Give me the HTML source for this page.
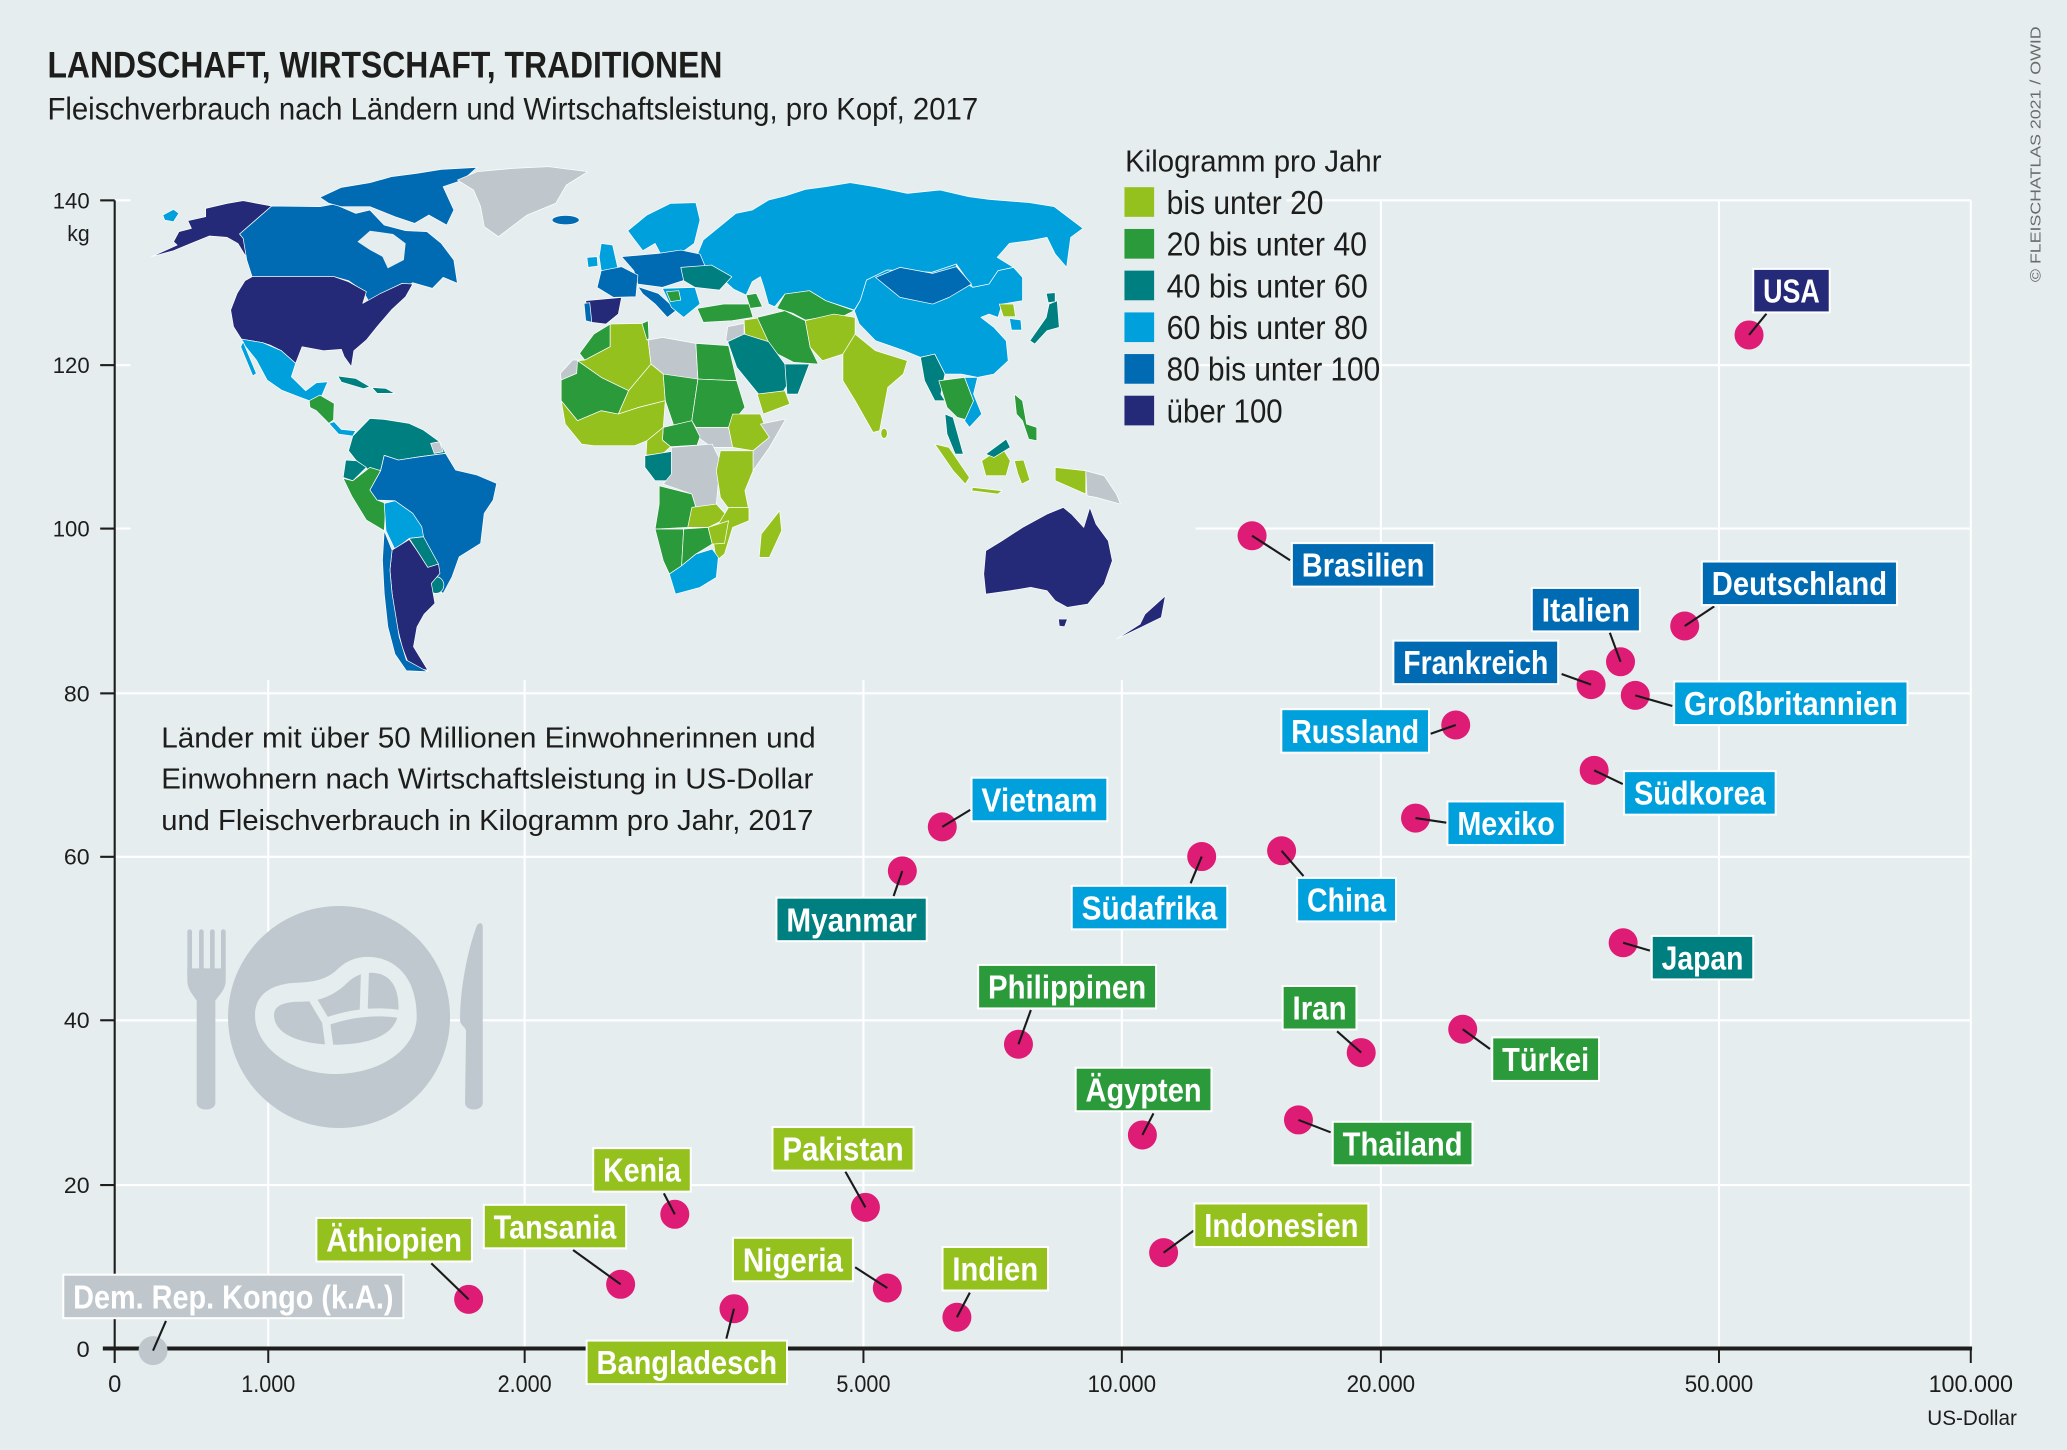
<!DOCTYPE html>
<html>
<head>
<meta charset="utf-8">
<style>
html,body{margin:0;padding:0;background:#E5EDEF;}
svg{display:block;}
.m polygon,.m ellipse{stroke:#fff;stroke-width:0.7;vector-effect:non-scaling-stroke;stroke-linejoin:round;}
.lb text{font-family:"Liberation Sans Narrow","Liberation Sans",sans-serif;font-weight:bold;font-size:25px;fill:#fff;}
.lb rect{stroke:#fff;stroke-width:1.5;}
.ld line{stroke:#1a1a1a;stroke-width:1.6;}
.t{font-family:"Liberation Sans Narrow","Liberation Sans",sans-serif;fill:#1d1d1b;}
</style>
</head>
<body>
<svg width="2067" height="1450" viewBox="0 0 1568 1100" preserveAspectRatio="none" xmlns="http://www.w3.org/2000/svg">
<rect x="0" y="0" width="1568" height="1100" fill="#E5EDEF"/>

<!-- gridlines -->
<g stroke="#ffffff" stroke-width="1.6">
<line x1="87" y1="152" x2="1495" y2="152"/>
<line x1="87" y1="277" x2="1495" y2="277"/>
<line x1="87" y1="401" x2="1495" y2="401"/>
<line x1="87" y1="526" x2="1495" y2="526"/>
<line x1="87" y1="650" x2="1495" y2="650"/>
<line x1="87" y1="774" x2="1495" y2="774"/>
<line x1="87" y1="899" x2="1495" y2="899"/>
<line x1="203.5" y1="152" x2="203.5" y2="1023"/>
<line x1="398" y1="152" x2="398" y2="1023"/>
<line x1="655" y1="152" x2="655" y2="1023"/>
<line x1="851" y1="152" x2="851" y2="1023"/>
<line x1="1047.5" y1="152" x2="1047.5" y2="1023"/>
<line x1="1304" y1="152" x2="1304" y2="1023"/>
<line x1="1495" y1="152" x2="1495" y2="1023"/>
</g>
<!-- occluder behind map -->
<polygon points="99,140 976,140 976,200 907,200 907,516 99,516" fill="#E5EDEF"/>

<!-- MAP: Americas -->
<g class="m" transform="translate(91,121.4) scale(0.2709,0.2529)">
<polygon fill="#242A77" points="150,245 165,215 200,205 190,182 240,170 240,145 300,130 345,122 425,138 335,222 350,240 360,270 370,300 350,285 330,250 300,232 250,228 200,250 150,272 88,290 160,255"/>
<polygon fill="#00A0DC" points="120,165 150,148 165,160 150,185 125,180"/>
<polygon fill="#006AB3" points="425,138 560,140 600,132 660,160 700,150 740,195 800,212 860,215 900,250 935,300 945,370 905,352 875,385 820,368 760,405 700,430 680,392 640,362 600,350 370,350 355,300 345,235 335,222"/>
<polygon fill="#E5EDEF" style="stroke:none" points="665,245 700,212 765,222 800,250 795,300 750,325 735,290 700,270"/>
<polygon fill="#006AB3" points="560,112 620,82 700,68 760,50 830,40 900,28 1000,22 960,60 905,80 935,150 915,195 865,165 825,190 770,170 700,140 620,140 585,130"/>
<polygon fill="#BFC7CD" points="945,60 1000,35 1100,25 1200,20 1310,35 1250,75 1220,130 1140,165 1060,230 1020,200 1010,140 990,90"/>
<ellipse fill="#006AB3" cx="1248" cy="180" rx="38" ry="14"/>
<polygon fill="#242A77" points="370,350 600,350 640,365 690,395 680,430 730,400 790,370 820,372 800,410 760,450 720,500 690,540 655,572 648,620 628,590 620,568 570,572 510,560 492,610 452,572 420,555 400,548 340,537 318,500 310,450 328,400 350,362"/>
<polygon fill="#00A0DC" points="340,537 400,548 452,572 492,610 480,650 520,692 550,668 582,665 560,720 530,722 500,710 452,690 412,660 382,600 352,560"/>
<polygon fill="#00A0DC" points="345,545 382,640 372,648 338,560"/>
<polygon fill="#2A9A3A" points="530,722 560,705 600,730 598,780 585,790 550,752 532,742"/>
<polygon fill="#00A0DC" points="585,790 600,785 620,808 660,812 652,828 612,822"/>
<polygon fill="#007F80" points="610,648 660,655 700,680 682,686 620,666"/>
<polygon fill="#007F80" points="705,682 745,685 770,700 720,700"/>
<polygon fill="#007F80" points="652,828 700,775 740,778 810,790 850,810 895,845 912,880 840,890 780,900 740,886 730,930 700,932 662,902 640,872"/>
<polygon fill="#BFC7CD" points="870,850 895,845 905,875 880,880"/>
<polygon fill="#007F80" points="632,900 662,902 690,922 652,962 625,952"/>
<polygon fill="#2A9A3A" points="625,955 652,962 700,922 730,932 700,990 720,1020 745,1030 740,1112 690,1080 650,1010"/>
<polygon fill="#006AB3" points="700,990 730,932 740,886 780,900 840,890 912,880 940,930 1000,945 1055,970 1045,1020 1020,1060 1010,1150 950,1190 930,1250 905,1300 882,1282 890,1222 850,1150 820,1060 770,1022 720,1020"/>
<polygon fill="#00A0DC" points="740,1030 770,1022 820,1060 845,1100 850,1130 810,1135 770,1168 745,1112"/>
<polygon fill="#007F80" points="810,1135 850,1130 892,1212 862,1222 832,1172"/>
<ellipse fill="#007F80" cx="885" cy="1275" rx="22" ry="25"/>
<polygon fill="#242A77" points="762,1170 810,1138 832,1172 862,1222 892,1212 896,1240 872,1270 882,1330 852,1362 832,1400 822,1460 862,1530 812,1522 790,1460 772,1380 762,1300 756,1230"/>
<polygon fill="#006AB3" points="740,1112 762,1170 756,1230 762,1300 782,1430 802,1500 862,1535 802,1532 770,1482 750,1400 740,1300 735,1200"/>
</g>

<!-- MAP: Europe, Africa, Asia, Oceania -->
<g class="m" transform="translate(409.6,121.4) scale(0.3097,0.2529)">
<polygon fill="#00A0DC" points="380,300 400,240 450,190 480,160 520,150 560,120 600,108 650,88 700,80 760,68 820,80 900,100 980,90 1050,110 1100,118 1200,128 1260,140 1330,205 1300,232 1290,322 1262,282 1242,232 1200,242 1150,250 1120,292 1160,322 1122,332 1100,372 1060,382 1020,312 960,337 850,330 800,360 785,420 770,450 700,422 660,392 600,402 575,440 560,432 548,380 540,350 520,365 505,405 475,388 445,355 405,332"/>
<polygon fill="#2A9A3A" points="600,402 660,392 700,422 770,452 740,470 700,470 650,480 620,460 580,445"/>
<polygon fill="#2A9A3A" points="505,405 530,400 545,440 515,445"/>
<polygon fill="#00A0DC" points="215,212 262,165 320,130 382,128 392,180 378,250 342,282 300,292 282,250 252,272 232,240"/>
<polygon fill="#00A0DC" points="150,250 178,255 192,330 150,332 145,290"/>
<polygon fill="#00A0DC" points="115,292 140,290 142,318 118,322"/>
<polygon fill="#006AB3" points="200,290 290,280 345,270 392,282 412,340 350,362 300,382 240,372 230,332"/>
<polygon fill="#006AB3" points="150,332 200,320 240,345 235,410 180,412 140,382"/>
<polygon fill="#007F80" points="345,322 420,315 470,350 440,390 380,382 352,362"/>
<polygon fill="#006AB3" points="240,380 290,400 335,450 312,472 282,432 252,402"/>
<polygon fill="#00A0DC" points="300,385 380,382 392,432 352,472 322,442"/>
<polygon fill="#2A9A3A" points="310,395 340,392 345,420 320,425"/>
<polygon fill="#242A77" points="112,422 200,412 192,462 162,492 127,487 117,457"/>
<polygon fill="#006AB3" points="108,430 122,428 127,487 112,482"/>
<polygon fill="#2A9A3A" points="385,445 450,432 512,432 522,472 470,482 400,487"/>
<polygon fill="#95C11F" points="500,480 545,472 562,552 532,582 502,522"/>
<polygon fill="#BFC7CD" points="460,500 500,490 500,540 470,560 455,540"/>
<polygon fill="#2A9A3A" points="532,472 600,452 650,482 662,562 682,612 622,607 582,582 562,552"/>
<polygon fill="#007F80" points="460,545 500,522 560,545 600,612 622,642 592,702 542,712 482,622"/>
<polygon fill="#95C11F" points="532,702 600,692 612,732 547,762"/>
<polygon fill="#007F80" points="600,612 660,612 632,702 605,702"/>
<polygon fill="#95C11F" points="650,482 720,462 772,472 772,532 742,582 692,602 662,562"/>
<polygon fill="#95C11F" points="742,582 772,522 822,572 900,602 890,642 852,682 832,812 816,817 772,722 742,662"/>
<ellipse fill="#95C11F" cx="843" cy="820" rx="8" ry="15"/>
<polygon fill="#00A0DC" points="800,360 850,330 960,337 1020,312 1020,352 1060,382 1100,372 1122,332 1160,322 1182,352 1182,422 1132,432 1122,472 1100,462 1080,472 1112,502 1142,542 1147,602 1112,642 1072,652 1032,642 992,642 967,582 932,592 892,572 822,542 782,492 770,452 785,420"/>
<polygon fill="#006AB3" points="822,352 882,322 962,340 1020,320 1057,372 1002,412 962,432 882,412"/>
<polygon fill="#95C11F" points="1125,432 1160,432 1165,470 1135,470"/>
<polygon fill="#00A0DC" points="1150,475 1178,480 1180,510 1155,510"/>
<polygon fill="#007F80" points="1200,542 1240,472 1247,432 1267,422 1272,502 1242,512 1212,552"/>
<polygon fill="#007F80" points="1240,400 1262,398 1262,425 1245,428"/>
<polygon fill="#007F80" points="932,592 967,582 992,642 982,702 992,722 967,722 942,662"/>
<polygon fill="#2A9A3A" points="977,662 1040,652 1062,722 1052,782 1022,772 1012,760 997,742 987,702"/>
<polygon fill="#00A0DC" points="1040,652 1072,652 1062,702 1082,762 1052,802 1040,782 1062,722"/>
<polygon fill="#007F80" points="992,762 1012,772 1037,882 1017,882 997,822"/>
<polygon fill="#95C11F" points="967,852 1002,862 1052,952 1042,972 1012,932"/>
<polygon fill="#95C11F" points="1082,902 1132,862 1152,902 1142,947 1092,947"/>
<polygon fill="#007F80" points="1092,882 1142,837 1152,862 1112,892"/>
<polygon fill="#95C11F" points="1060,982 1132,992 1122,1002 1057,992"/>
<polygon fill="#95C11F" points="1162,902 1185,900 1200,960 1180,972 1170,940"/>
<polygon fill="#95C11F" points="1262,922 1337,932 1337,1002 1262,962"/>
<polygon fill="#BFC7CD" points="1337,932 1382,947 1412,1002 1422,1032 1362,1012 1340,1007"/>
<polygon fill="#2A9A3A" points="1162,702 1182,722 1192,792 1217,802 1217,842 1197,837 1182,782 1167,762"/>
<!-- Africa -->
<polygon fill="#2A9A3A" points="97,580 132,522 172,492 172,560 110,600"/>
<polygon fill="#BFC7CD" points="50,640 80,600 110,600 90,640 52,660"/>
<polygon fill="#95C11F" points="172,492 250,490 265,540 272,612 217,692 150,652 92,602 110,600 172,560"/>
<polygon fill="#2A9A3A" points="250,490 265,482 267,535 262,540"/>
<polygon fill="#BFC7CD" points="265,540 300,532 382,550 387,657 332,652 302,642 272,612"/>
<polygon fill="#2A9A3A" points="382,550 462,557 482,662 387,657"/>
<polygon fill="#2A9A3A" points="52,660 90,640 92,602 150,652 217,692 192,762 150,752 92,782 52,722"/>
<polygon fill="#95C11F" points="217,692 272,612 302,642 307,722 242,742 192,762"/>
<polygon fill="#2A9A3A" points="302,642 387,657 372,782 332,812 307,722"/>
<polygon fill="#2A9A3A" points="387,657 482,662 502,742 462,802 382,802 372,782"/>
<polygon fill="#BFC7CD" points="382,802 462,802 472,862 422,862 387,832"/>
<polygon fill="#95C11F" points="472,762 540,762 562,832 522,872 472,862 462,802"/>
<polygon fill="#BFC7CD" points="540,792 602,777 562,862 522,932 522,872 562,832"/>
<polygon fill="#95C11F" points="52,722 92,782 150,752 192,762 242,742 307,722 302,802 262,842 232,857 132,857 102,852 62,792"/>
<polygon fill="#2A9A3A" points="302,802 372,782 392,830 385,855 320,860 300,840"/>
<polygon fill="#95C11F" points="262,842 302,802 300,840 320,860 300,882 260,885"/>
<polygon fill="#007F80" points="257,887 332,872 322,962 282,962 257,922"/>
<polygon fill="#BFC7CD" points="322,862 422,852 442,902 432,1032 382,1042 372,1002 302,972 322,942"/>
<polygon fill="#95C11F" points="442,872 522,872 522,932 502,992 512,1052 472,1062 442,1012 432,932"/>
<polygon fill="#2A9A3A" points="292,977 372,1002 382,1042 362,1102 282,1107 292,1032"/>
<polygon fill="#95C11F" points="372,1042 432,1032 462,1072 412,1102 362,1102"/>
<polygon fill="#95C11F" points="462,1042 512,1042 512,1082 472,1102 452,1182 432,1202 422,1122"/>
<polygon fill="#2A9A3A" points="282,1107 352,1107 347,1217 317,1242 302,1202"/>
<polygon fill="#2A9A3A" points="352,1107 412,1102 422,1152 382,1182 347,1217"/>
<polygon fill="#95C11F" points="412,1102 462,1082 452,1150 422,1152"/>
<polygon fill="#00A0DC" points="317,1242 347,1217 382,1182 422,1167 437,1192 432,1252 392,1282 332,1302"/>
<polygon fill="#95C11F" points="587,1052 592,1112 562,1192 537,1192 542,1122"/>
<!-- Oceania -->
<polygon fill="#242A77" points="1092,1172 1132,1142 1182,1102 1242,1062 1282,1042 1302,1062 1332,1102 1347,1042 1362,1092 1392,1142 1402,1202 1382,1272 1342,1332 1292,1342 1262,1322 1242,1292 1202,1282 1152,1292 1092,1302 1087,1242"/>
<polygon fill="#242A77" points="1270,1377 1292,1377 1285,1400 1272,1398"/>
<polygon fill="#242A77" points="1482,1362 1532,1307 1522,1372 1472,1402 1412,1437 1470,1392"/>
</g>

<!-- plate icon -->
<g transform="translate(113.8,667.6) scale(0.2529)" fill="#BFC8CE">
<circle cx="567" cy="411" r="333"/>
<rect x="112" y="148" width="14" height="140" rx="7"/>
<rect x="147" y="148" width="14" height="140" rx="7"/>
<rect x="180" y="148" width="14" height="140" rx="7"/>
<rect x="213" y="148" width="14" height="140" rx="7"/>
<path d="M112,265 L227,265 L227,300 C227,330 207,345 196,362 L196,668 C196,695 140,695 140,668 L140,362 C130,345 112,330 112,300 Z"/>
<path d="M998,140 C998,126 984,126 979,140 C950,220 930,330 930,420 C930,435 945,440 948,452 L945,668 C945,695 998,695 998,668 Z"/>
<path fill="#E5EDEF" d="M315,410 C312,340 370,310 440,308 C500,306 535,295 565,265 C600,232 650,222 700,238 C770,262 800,330 800,410 C800,500 700,580 560,582 C420,582 318,500 315,410 Z"/>
<path d="M372,405 C372,375 405,365 450,365 C510,365 555,345 595,305 C620,282 655,272 690,282 C735,295 748,345 745,395 C740,455 680,492 560,494 C445,494 372,460 372,405 Z"/>
<path fill="none" stroke="#E5EDEF" stroke-width="24" d="M488,358 L528,425 L538,500 M528,425 Q640,385 752,402 M645,268 L641,390"/>
</g>

<!-- title -->
<text class="t" x="36" y="58.7" font-size="28" font-weight="bold" textLength="512" lengthAdjust="spacingAndGlyphs">LANDSCHAFT, WIRTSCHAFT, TRADITIONEN</text>
<text class="t" x="36" y="90.5" font-size="24" textLength="706" lengthAdjust="spacingAndGlyphs">Fleischverbrauch nach Ländern und Wirtschaftsleistung, pro Kopf, 2017</text>

<!-- copyright vertical -->
<text transform="translate(1548,214) rotate(-90)" font-family="'Liberation Sans',sans-serif" font-size="11" fill="#6a6a6a" textLength="194" lengthAdjust="spacingAndGlyphs">© FLEISCHATLAS 2021 / OWID</text>

<!-- legend -->
<text class="t" x="853.5" y="130.2" font-size="23" textLength="194.5" lengthAdjust="spacingAndGlyphs">Kilogramm pro Jahr</text>
<rect x="853" y="142" width="22.5" height="22.5" fill="#95C11F"/>
<rect x="853" y="173.7" width="22.5" height="22.5" fill="#2A9A3A"/>
<rect x="853" y="205.3" width="22.5" height="22.5" fill="#007F80"/>
<rect x="853" y="237" width="22.5" height="22.5" fill="#00A0DC"/>
<rect x="853" y="268.6" width="22.5" height="22.5" fill="#006AB3"/>
<rect x="853" y="300.2" width="22.5" height="22.5" fill="#242A77"/>
<text class="t" x="885" y="162.3" font-size="25" textLength="119" lengthAdjust="spacingAndGlyphs">bis unter 20</text>
<text class="t" x="885" y="194" font-size="25" textLength="152" lengthAdjust="spacingAndGlyphs">20 bis unter 40</text>
<text class="t" x="885" y="225.6" font-size="25" textLength="152.6" lengthAdjust="spacingAndGlyphs">40 bis unter 60</text>
<text class="t" x="885" y="257.2" font-size="25" textLength="152.6" lengthAdjust="spacingAndGlyphs">60 bis unter 80</text>
<text class="t" x="885" y="288.8" font-size="25" textLength="162" lengthAdjust="spacingAndGlyphs">80 bis unter 100</text>
<text class="t" x="885" y="320.4" font-size="25" textLength="88" lengthAdjust="spacingAndGlyphs">über 100</text>

<!-- description -->
<text class="t" x="122.3" y="567" font-size="22" textLength="496.5" lengthAdjust="spacingAndGlyphs">Länder mit über 50 Millionen Einwohnerinnen und</text>
<text class="t" x="122.3" y="598.3" font-size="22" textLength="494.7" lengthAdjust="spacingAndGlyphs">Einwohnern nach Wirtschaftsleistung in US-Dollar</text>
<text class="t" x="122.3" y="629.7" font-size="22" textLength="494.7" lengthAdjust="spacingAndGlyphs">und Fleischverbrauch in Kilogramm pro Jahr, 2017</text>

<!-- axes -->
<g stroke="#1d1d1b">
<line x1="87" y1="152" x2="87" y2="1034" stroke-width="1.6"/>
<line x1="76" y1="152" x2="87" y2="152" stroke-width="1.6"/>
<line x1="76" y1="277" x2="87" y2="277" stroke-width="1.6"/>
<line x1="76" y1="401" x2="87" y2="401" stroke-width="1.6"/>
<line x1="76" y1="526" x2="87" y2="526" stroke-width="1.6"/>
<line x1="76" y1="650" x2="87" y2="650" stroke-width="1.6"/>
<line x1="76" y1="774" x2="87" y2="774" stroke-width="1.6"/>
<line x1="76" y1="899" x2="87" y2="899" stroke-width="1.6"/>
<line x1="78" y1="1023" x2="1496" y2="1023" stroke-width="3"/>
<line x1="203.5" y1="1023" x2="203.5" y2="1034" stroke-width="1.5"/>
<line x1="398" y1="1023" x2="398" y2="1034" stroke-width="1.5"/>
<line x1="655" y1="1023" x2="655" y2="1034" stroke-width="1.5"/>
<line x1="851" y1="1023" x2="851" y2="1034" stroke-width="1.5"/>
<line x1="1047.5" y1="1023" x2="1047.5" y2="1034" stroke-width="1.5"/>
<line x1="1304" y1="1023" x2="1304" y2="1034" stroke-width="1.5"/>
<line x1="1495" y1="1023" x2="1495" y2="1034" stroke-width="1.5"/>
</g>
<g class="t" font-size="17" text-anchor="end">
<text x="68" y="158" textLength="28" lengthAdjust="spacingAndGlyphs">140</text>
<text x="68" y="183" textLength="17" lengthAdjust="spacingAndGlyphs">kg</text>
<text x="68" y="283" textLength="28" lengthAdjust="spacingAndGlyphs">120</text>
<text x="68" y="407" textLength="28" lengthAdjust="spacingAndGlyphs">100</text>
<text x="68" y="532" textLength="19.5" lengthAdjust="spacingAndGlyphs">80</text>
<text x="68" y="656" textLength="19.5" lengthAdjust="spacingAndGlyphs">60</text>
<text x="68" y="780" textLength="19.5" lengthAdjust="spacingAndGlyphs">40</text>
<text x="68" y="905" textLength="19.5" lengthAdjust="spacingAndGlyphs">20</text>
<text x="68" y="1029.5" textLength="10" lengthAdjust="spacingAndGlyphs">0</text>
</g>
<g class="t" font-size="18" text-anchor="middle">
<text x="87" y="1056" textLength="10" lengthAdjust="spacingAndGlyphs">0</text>
<text x="203.5" y="1056" textLength="41" lengthAdjust="spacingAndGlyphs">1.000</text>
<text x="398" y="1056" textLength="41" lengthAdjust="spacingAndGlyphs">2.000</text>
<text x="655" y="1056" textLength="41" lengthAdjust="spacingAndGlyphs">5.000</text>
<text x="851" y="1056" textLength="52" lengthAdjust="spacingAndGlyphs">10.000</text>
<text x="1047.5" y="1056" textLength="52" lengthAdjust="spacingAndGlyphs">20.000</text>
<text x="1304" y="1056" textLength="52" lengthAdjust="spacingAndGlyphs">50.000</text>
<text x="1495" y="1056" textLength="64" lengthAdjust="spacingAndGlyphs">100.000</text>
</g>
<text class="t" x="1530" y="1081" font-size="16" text-anchor="end" textLength="68" lengthAdjust="spacingAndGlyphs">US-Dollar</text>

<!-- dots -->
<g fill="#DE1B75">
<circle cx="1326.8" cy="254.1" r="11"/>
<circle cx="949.8" cy="406.4" r="11"/>
<circle cx="1278" cy="474.9" r="11"/>
<circle cx="1229.3" cy="502" r="11"/>
<circle cx="1207" cy="519.4" r="11"/>
<circle cx="1240.5" cy="527.5" r="11"/>
<circle cx="1104.3" cy="550" r="11"/>
<circle cx="1209.3" cy="584.4" r="11"/>
<circle cx="1073.8" cy="620.6" r="11"/>
<circle cx="972.2" cy="645.4" r="11"/>
<circle cx="1231.3" cy="715.2" r="11"/>
<circle cx="714.8" cy="627.3" r="11"/>
<circle cx="684.5" cy="660.7" r="11"/>
<circle cx="911.6" cy="649.8" r="11"/>
<circle cx="772.6" cy="792.2" r="11"/>
<circle cx="1032.6" cy="798.5" r="11"/>
<circle cx="1109.6" cy="780.8" r="11"/>
<circle cx="866.6" cy="861" r="11"/>
<circle cx="985" cy="849.6" r="11"/>
<circle cx="656.5" cy="915.9" r="11"/>
<circle cx="882.7" cy="950.3" r="11"/>
<circle cx="511.9" cy="921.2" r="11"/>
<circle cx="355.5" cy="985.7" r="11"/>
<circle cx="470.8" cy="974.3" r="11"/>
<circle cx="673.1" cy="977.1" r="11"/>
<circle cx="725.9" cy="999.3" r="11"/>
<circle cx="556.8" cy="992.8" r="11"/>
</g>
<circle cx="116.1" cy="1024.6" r="11" fill="#BFC7CD"/>

<!-- leaders -->
<g class="ld">
<line x1="1326.8" y1="254.1" x2="1340" y2="238"/>
<line x1="949.8" y1="406.4" x2="978.6" y2="425"/>
<line x1="1278" y1="474.9" x2="1300.4" y2="460"/>
<line x1="1229.3" y1="502" x2="1221.2" y2="480"/>
<line x1="1207" y1="519.4" x2="1184.6" y2="511.3"/>
<line x1="1240.5" y1="527.5" x2="1268.6" y2="535.6"/>
<line x1="1104.3" y1="550" x2="1085.3" y2="556.6"/>
<line x1="1209.3" y1="584.4" x2="1231" y2="594.8"/>
<line x1="1073.8" y1="620.6" x2="1097.2" y2="624.1"/>
<line x1="972.2" y1="645.4" x2="988.8" y2="664.6"/>
<line x1="1231.3" y1="715.2" x2="1251.6" y2="721.2"/>
<line x1="714.8" y1="627.3" x2="736" y2="614.4"/>
<line x1="684.5" y1="660.7" x2="677.9" y2="679.7"/>
<line x1="911.6" y1="649.8" x2="903.2" y2="670.1"/>
<line x1="772.6" y1="792.2" x2="782" y2="766.2"/>
<line x1="1032.6" y1="798.5" x2="1014.3" y2="782.4"/>
<line x1="1109.6" y1="780.8" x2="1130.3" y2="795.8"/>
<line x1="866.6" y1="861" x2="875" y2="844.6"/>
<line x1="985" y1="849.6" x2="1009.4" y2="859"/>
<line x1="656.5" y1="915.9" x2="641.3" y2="888.8"/>
<line x1="882.7" y1="950.3" x2="905.5" y2="933.6"/>
<line x1="511.9" y1="921.2" x2="503.6" y2="905.3"/>
<line x1="355.5" y1="985.7" x2="327.2" y2="958.4"/>
<line x1="470.8" y1="974.3" x2="434.7" y2="948.3"/>
<line x1="673.1" y1="977.1" x2="648.7" y2="961.4"/>
<line x1="725.9" y1="999.3" x2="735.7" y2="980.6"/>
<line x1="556.8" y1="992.8" x2="551" y2="1015.5"/>
<line x1="116.1" y1="1024.6" x2="125.9" y2="1002.1"/>
</g>

<!-- labels -->
<g class="lb">
<rect x="1330" y="204" width="58" height="33" fill="#242A77"/><text x="1337.5" y="229.5" textLength="43" lengthAdjust="spacingAndGlyphs">USA</text>
<rect x="980" y="412" width="108" height="33" fill="#006AB3"/><text x="987.5" y="437.5" textLength="93" lengthAdjust="spacingAndGlyphs">Brasilien</text>
<rect x="1291" y="426" width="148" height="33" fill="#006AB3"/><text x="1298.5" y="451.5" textLength="133" lengthAdjust="spacingAndGlyphs">Deutschland</text>
<rect x="1162" y="446" width="82" height="33" fill="#006AB3"/><text x="1169.5" y="471.5" textLength="67" lengthAdjust="spacingAndGlyphs">Italien</text>
<rect x="1057" y="486" width="125" height="33" fill="#006AB3"/><text x="1064.5" y="511.5" textLength="110" lengthAdjust="spacingAndGlyphs">Frankreich</text>
<rect x="1270" y="517" width="177" height="33" fill="#00A0DC"/><text x="1277.5" y="542.5" textLength="162" lengthAdjust="spacingAndGlyphs">Großbritannien</text>
<rect x="972" y="538" width="112" height="33" fill="#00A0DC"/><text x="979.5" y="563.5" textLength="97" lengthAdjust="spacingAndGlyphs">Russland</text>
<rect x="1232" y="585" width="115" height="33" fill="#00A0DC"/><text x="1239.5" y="610.5" textLength="100" lengthAdjust="spacingAndGlyphs">Südkorea</text>
<rect x="1098" y="608" width="89" height="33" fill="#00A0DC"/><text x="1105.5" y="633.5" textLength="74" lengthAdjust="spacingAndGlyphs">Mexiko</text>
<rect x="984" y="666" width="75" height="33" fill="#00A0DC"/><text x="991.5" y="691.5" textLength="60" lengthAdjust="spacingAndGlyphs">China</text>
<rect x="1253" y="710" width="77" height="33" fill="#007F80"/><text x="1260.5" y="735.5" textLength="62" lengthAdjust="spacingAndGlyphs">Japan</text>
<rect x="737" y="590" width="103" height="33" fill="#00A0DC"/><text x="744.5" y="615.5" textLength="88" lengthAdjust="spacingAndGlyphs">Vietnam</text>
<rect x="589" y="681" width="114" height="33" fill="#007F80"/><text x="596.5" y="706.5" textLength="99" lengthAdjust="spacingAndGlyphs">Myanmar</text>
<rect x="813" y="672" width="118" height="33" fill="#00A0DC"/><text x="820.5" y="697.5" textLength="103" lengthAdjust="spacingAndGlyphs">Südafrika</text>
<rect x="742" y="732" width="135" height="33" fill="#2A9A3A"/><text x="749.5" y="757.5" textLength="120" lengthAdjust="spacingAndGlyphs">Philippinen</text>
<rect x="973" y="748" width="56" height="33" fill="#2A9A3A"/><text x="980.5" y="773.5" textLength="41" lengthAdjust="spacingAndGlyphs">Iran</text>
<rect x="1132" y="787" width="81" height="33" fill="#2A9A3A"/><text x="1139.5" y="812.5" textLength="66" lengthAdjust="spacingAndGlyphs">Türkei</text>
<rect x="816" y="810" width="103" height="33" fill="#2A9A3A"/><text x="823.5" y="835.5" textLength="88" lengthAdjust="spacingAndGlyphs">Ägypten</text>
<rect x="1011" y="851" width="106" height="33" fill="#2A9A3A"/><text x="1018.5" y="876.5" textLength="91" lengthAdjust="spacingAndGlyphs">Thailand</text>
<rect x="586" y="855" width="107" height="33" fill="#95C11F"/><text x="593.5" y="880.5" textLength="92" lengthAdjust="spacingAndGlyphs">Pakistan</text>
<rect x="906" y="913" width="132" height="33" fill="#95C11F"/><text x="913.5" y="938.5" textLength="117" lengthAdjust="spacingAndGlyphs">Indonesien</text>
<rect x="450" y="871" width="74" height="33" fill="#95C11F"/><text x="457.5" y="896.5" textLength="59" lengthAdjust="spacingAndGlyphs">Kenia</text>
<rect x="240" y="924" width="118" height="33" fill="#95C11F"/><text x="247.5" y="949.5" textLength="103" lengthAdjust="spacingAndGlyphs">Äthiopien</text>
<rect x="367" y="914" width="108" height="33" fill="#95C11F"/><text x="374.5" y="939.5" textLength="93" lengthAdjust="spacingAndGlyphs">Tansania</text>
<rect x="556" y="939" width="91" height="33" fill="#95C11F"/><text x="563.5" y="964.5" textLength="76" lengthAdjust="spacingAndGlyphs">Nigeria</text>
<rect x="715" y="946" width="80" height="33" fill="#95C11F"/><text x="722.5" y="971.5" textLength="65" lengthAdjust="spacingAndGlyphs">Indien</text>
<rect x="445" y="1017" width="152" height="33" fill="#95C11F"/><text x="452.5" y="1042.5" textLength="137" lengthAdjust="spacingAndGlyphs">Bangladesch</text>
<rect x="48" y="967" width="258" height="33" fill="#BFC7CD"/><text x="55.5" y="992.5" textLength="243" lengthAdjust="spacingAndGlyphs">Dem. Rep. Kongo (k.A.)</text>
</g>
</svg>
</body>
</html>
